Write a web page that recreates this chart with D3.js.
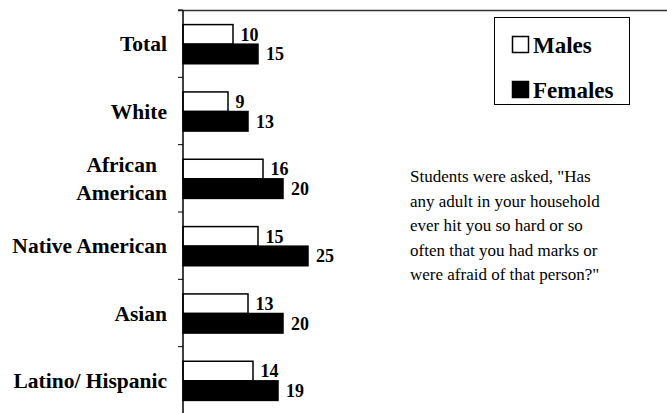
<!DOCTYPE html>
<html>
<head>
<meta charset="utf-8">
<script src="https://cdn.jsdelivr.net/npm/d3@7"></script>
<style>
  body { margin: 0; background: #fff; }
</style>
</head>
<body>
<div id="chart"></div>
<script>
var categories = ["Total", "White", "African American", "Native American", "Asian", "Latino/ Hispanic"];
var catLines = [["Total"], ["White"], ["African", "American"], ["Native American"], ["Asian"], ["Latino/ Hispanic"]];
var males = [10, 9, 16, 15, 13, 14];
var females = [15, 13, 20, 25, 20, 19];
var seriesNames = ["Males", "Females"];
var note = ["Students were asked, \"Has", "any adult in your household", "ever hit you so hard or so",
            "often that you had marks or", "were afraid of that person?\""];

var width = 667, height = 413;
var serif = "'Liberation Serif'";

var svg = d3.select("#chart").append("svg")
    .attr("width", width)
    .attr("height", height)
    .style("display", "block");

// 5px per percentage point, starting at the axis
var x = d3.scaleLinear().domain([0, 100]).range([183, 683]);

var y = d3.scaleBand().domain(categories).range([10, 414]);

var ySub = d3.scaleBand().domain(seriesNames)
    .range([0, y.bandwidth()])
    .paddingInner(0)
    .paddingOuter(0.72);

var rows = categories.map(function(c, i) {
  return { cat: c, lines: catLines[i], vals: [males[i], females[i]] };
});

// top border line
svg.append("line")
    .attr("x1", 178).attr("x2", width)
    .attr("y1", 10.5).attr("y2", 10.5)
    .attr("stroke", "#333").attr("stroke-width", 1.5);

// bars
var g = svg.selectAll("g.row").data(rows).enter().append("g")
    .attr("class", "row")
    .attr("transform", function(d) { return "translate(0," + (y(d.cat) + 0.5) + ")"; });

g.selectAll("rect").data(function(d) {
    return d.vals.map(function(v, j) { return { s: seriesNames[j], v: v }; });
  }).enter().append("rect")
    .attr("x", x(0))
    .attr("y", function(d) { return ySub(d.s); })
    .attr("width", function(d) { return x(d.v) - x(0); })
    .attr("height", ySub.bandwidth())
    .attr("fill", function(d) { return d.s == "Males" ? "#fff" : "#000"; })
    .attr("stroke", "#000")
    .attr("stroke-width", 1.5);

g.selectAll("text.val").data(function(d) {
    return d.vals.map(function(v, j) { return { s: seriesNames[j], v: v }; });
  }).enter().append("text")
    .attr("class", "val")
    .attr("x", function(d) { return x(d.v) + (d.s == "Males" ? 7.5 : 8); })
    .attr("y", function(d) { return ySub(d.s) + ySub.bandwidth() / 2; })
    .attr("dy", "0.35em")
    .style("font-family", serif)
    .style("font-size", "18px")
    .style("font-weight", "bold")
    .text(function(d) { return d.v; });

// axis
var ax = svg.append("g").attr("transform", "translate(183,0)");
ax.append("line")
    .attr("y1", 10).attr("y2", 414)
    .attr("stroke", "#000").attr("stroke-width", 1.5);
ax.selectAll("line.tick").data(y.domain().map(function(c) { return y(c); }).concat([414]))
  .enter().append("line")
    .attr("class", "tick")
    .attr("x1", -5).attr("x2", 0)
    .attr("y1", function(d) { return d; }).attr("y2", function(d) { return d; })
    .attr("stroke", "#000").attr("stroke-width", 1);

// category labels (multi-line labels are centred on each other, block right-aligned)
var labRight = 167;
var lab = svg.selectAll("text.cat").data(rows).enter().append("text")
    .attr("class", "cat")
    .style("font-family", serif)
    .style("font-size", "21.5px")
    .style("font-weight", "bold");
lab.selectAll("tspan").data(function(d) {
    var n = d.lines.length, mid = y(d.cat) + y.bandwidth() / 2;
    return d.lines.map(function(t, k) { return { t: t, yy: mid + 7.5 + (k - (n - 1) / 2) * 28 }; });
  }).enter().append("tspan")
    .attr("y", function(d) { return d.yy; })
    .text(function(d) { return d.t; });
lab.each(function() {
  var spans = d3.select(this).selectAll("tspan");
  var maxW = 0;
  spans.each(function() { maxW = Math.max(maxW, this.getComputedTextLength()); });
  spans.attr("text-anchor", "middle").attr("x", labRight - maxW / 2);
});

// legend
var leg = svg.append("g");
leg.append("rect")
    .attr("x", 494.5).attr("y", 17.5).attr("width", 135).attr("height", 87)
    .attr("fill", "#fff").attr("stroke", "#000").attr("stroke-width", 1);
seriesNames.forEach(function(s, i) {
  leg.append("rect")
      .attr("x", 512.5).attr("y", 36.5 + i * 45).attr("width", 16).attr("height", 16)
      .attr("fill", i == 0 ? "#fff" : "#000")
      .attr("stroke", "#000").attr("stroke-width", 1.5);
  leg.append("text")
      .attr("x", 533).attr("y", 53 + i * 44.5)
      .style("font-family", serif)
      .style("font-size", "23px")
      .style("font-weight", "bold")
      .text(s);
});

// note text
svg.append("text")
    .style("font-family", serif)
    .style("font-size", "17px")
    .selectAll("tspan").data(note).enter().append("tspan")
    .attr("x", 410)
    .attr("y", function(d, i) { return 182 + i * 24.5; })
    .text(function(d) { return d; });
</script>
</body>
</html>
